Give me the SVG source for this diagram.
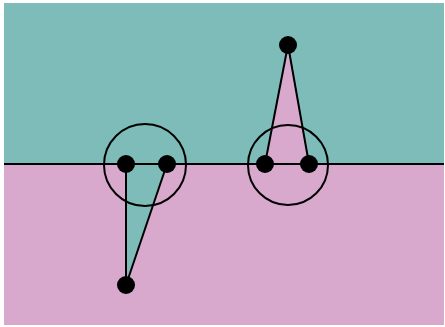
<svg xmlns="http://www.w3.org/2000/svg" width="445" height="327" viewBox="0 0 445 327">
<style>
.ln{stroke:#000;stroke-width:2;fill:none}
.dot{fill:#000}
.teal{fill:#7dbcb9}
.pink{fill:#d8a9cd}
</style>
<rect width="445" height="327" fill="#fff"/>
<rect class="teal" x="4" y="3" width="440" height="161"/>
<rect class="pink" x="4" y="164" width="440" height="161"/>
<g id="connectors">
<polygon class="teal" points="126,164 167,164 126,285"/>
<polygon class="pink" points="265,164 309,164 288,45"/>
<line class="ln" x1="4" y1="164" x2="444" y2="164"/>
<line class="ln" x1="126" y1="164" x2="126" y2="285"/>
<line class="ln" x1="167" y1="164" x2="126" y2="285"/>
<line class="ln" x1="265" y1="164" x2="288" y2="45"/>
<line class="ln" x1="309" y1="164" x2="288" y2="45"/>
</g>
<g id="circle-left"><circle class="ln" cx="145" cy="165" r="41"/></g>
<g id="circle-right"><circle class="ln" cx="288" cy="165" r="40"/></g>
<g id="dot-l1"><circle class="dot" cx="126" cy="164" r="9"/></g>
<g id="dot-l2"><circle class="dot" cx="167" cy="164" r="9"/></g>
<g id="dot-l3"><circle class="dot" cx="126" cy="285" r="9"/></g>
<g id="dot-r1"><circle class="dot" cx="265" cy="164" r="9"/></g>
<g id="dot-r2"><circle class="dot" cx="309" cy="164" r="9"/></g>
<g id="dot-r3"><circle class="dot" cx="288" cy="45" r="9"/></g>
</svg>
